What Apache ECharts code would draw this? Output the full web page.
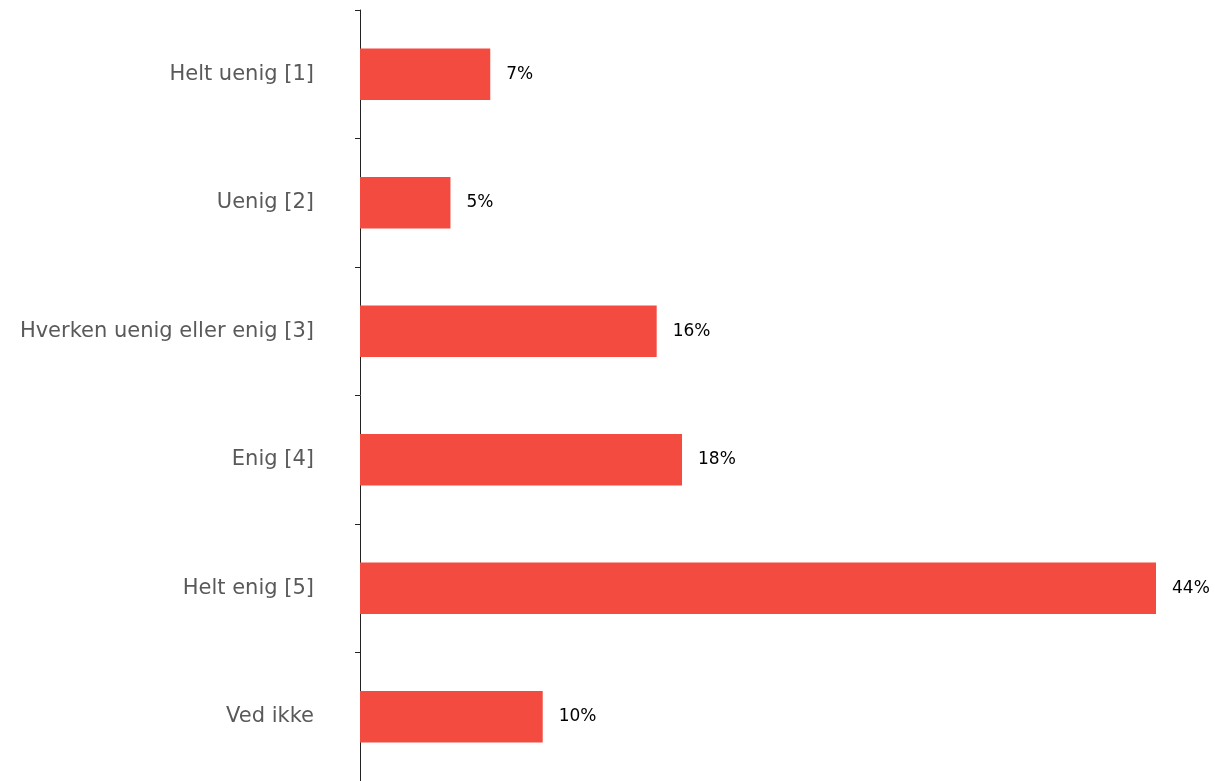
<!DOCTYPE html>
<html>
<head>
<meta charset="utf-8">
<script src="https://cdn.jsdelivr.net/npm/echarts@6/dist/echarts.min.js"></script>
<style>
html,body{margin:0;padding:0;background:#fff;}
#chart{width:1215px;height:781px;}
</style>
</head>
<body>
<div id="chart"></div>
<script>
const categories = ["Helt uenig [1]", "Uenig [2]", "Hverken uenig eller enig [3]", "Enig [4]", "Helt enig [5]", "Ved ikke"];
const shares = [7.2, 5.0, 16.4, 17.8, 44.0, 10.1];

const chart = echarts.init(document.getElementById('chart'), null, {renderer: 'canvas'});
chart.setOption({
  animation: false,
  backgroundColor: '#ffffff',
  grid: {left: 360, right: 59, top: 10, bottom: 0, containLabel: false},
  xAxis: {
    type: 'value',
    min: 0,
    max: 'dataMax',
    show: false
  },
  yAxis: {
    type: 'category',
    data: categories,
    inverse: true,
    axisLine: {show: true, lineStyle: {color: '#222222', width: 1}},
    axisTick: {show: true, length: 5, lineStyle: {color: '#222222'}},
    axisLabel: {
      margin: 46,
      color: '#595959',
      fontSize: 21,
      fontFamily: 'DejaVu Sans'
    },
    splitLine: {show: false}
  },
  series: [{
    type: 'bar',
    data: shares,
    barCategoryGap: '60%',
    itemStyle: {color: '#F44B41'},
    label: {
      show: true,
      position: 'right',
      distance: 16,
      color: '#000000',
      fontSize: 17,
      fontFamily: 'DejaVu Sans',
      formatter: p => Math.round(p.value) + '%'
    }
  }]
});
</script>
</body>
</html>
